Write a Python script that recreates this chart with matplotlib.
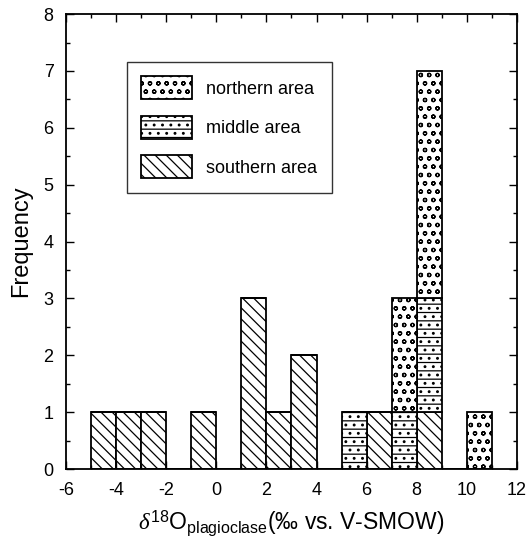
import matplotlib.pyplot as plt
import numpy as np
from matplotlib.ticker import MultipleLocator

plt.rcParams['font.family'] = ['Liberation Sans', 'DejaVu Sans']
plt.rcParams['mathtext.fontset'] = 'custom'
plt.rcParams['mathtext.rm'] = 'Liberation Sans'
plt.rcParams['mathtext.it'] = 'Liberation Serif:italic'
plt.rcParams['axes.unicode_minus'] = False
plt.rcParams['hatch.linewidth'] = 0.9

# left edges of 1-permil bins
bin_left = [-5, -4, -3, -2, -1, 0, 1, 2, 3, 4, 5, 6, 7, 8, 9, 10]
southern = [1, 1, 1, 0, 1, 0, 3, 1, 2, 0, 0, 1, 0, 1, 0, 0]
middle   = [0, 0, 0, 0, 0, 0, 0, 0, 0, 0, 1, 0, 1, 2, 0, 0]
northern = [0, 0, 0, 0, 0, 0, 0, 0, 0, 0, 0, 0, 2, 4, 0, 1]

fig = plt.figure(figsize=(5.29, 5.41), dpi=100)
ax = fig.add_axes([0.125, 0.133, 0.852, 0.841])

s = np.array(southern)
m = np.array(middle)
n = np.array(northern)

ax.bar(bin_left, s, width=1, align='edge', color='white', edgecolor='black',
       linewidth=1.3, hatch='\\\\\\', label='southern area')
ax.bar(bin_left, m, width=1, align='edge', bottom=s, color='white', edgecolor='black',
       linewidth=1.3, hatch='--..', label='middle area')
ax.bar(bin_left, n, width=1, align='edge', bottom=s + m, color='white', edgecolor='black',
       linewidth=1.3, hatch='oo', label='northern area')

ax.set_xlim(-6, 12)
ax.set_ylim(0, 8)
ax.xaxis.set_major_locator(MultipleLocator(2))
ax.xaxis.set_minor_locator(MultipleLocator(1))
ax.yaxis.set_major_locator(MultipleLocator(1))
ax.yaxis.set_minor_locator(MultipleLocator(0.5))
ax.tick_params(which='both', direction='in', top=True, right=True, labelsize=13)
ax.tick_params(which='major', length=6, width=1)
ax.tick_params(which='minor', length=3, width=1)
ax.tick_params(axis='x', pad=9)
ax.tick_params(axis='y', pad=9)
for sp in ax.spines.values():
    sp.set_linewidth(1.3)

ax.set_ylabel('Frequency', fontsize=17, labelpad=8)
ax.set_xlabel(r'$\delta^{18}$O$_{\mathrm{plagioclase}}$(‰ vs. V-SMOW)', fontsize=16.5, labelpad=7)

h, l = ax.get_legend_handles_labels()
leg = ax.legend(h[::-1], l[::-1], loc='upper left', bbox_to_anchor=(0.115, 0.915),
                fontsize=13, frameon=True, fancybox=False, edgecolor='black',
                handlelength=2.8, handleheight=1.6, labelspacing=0.9,
                borderpad=0.8, handletextpad=0.8)
leg.get_frame().set_linewidth(1.0)

fig.savefig('out.png', dpi=100)
